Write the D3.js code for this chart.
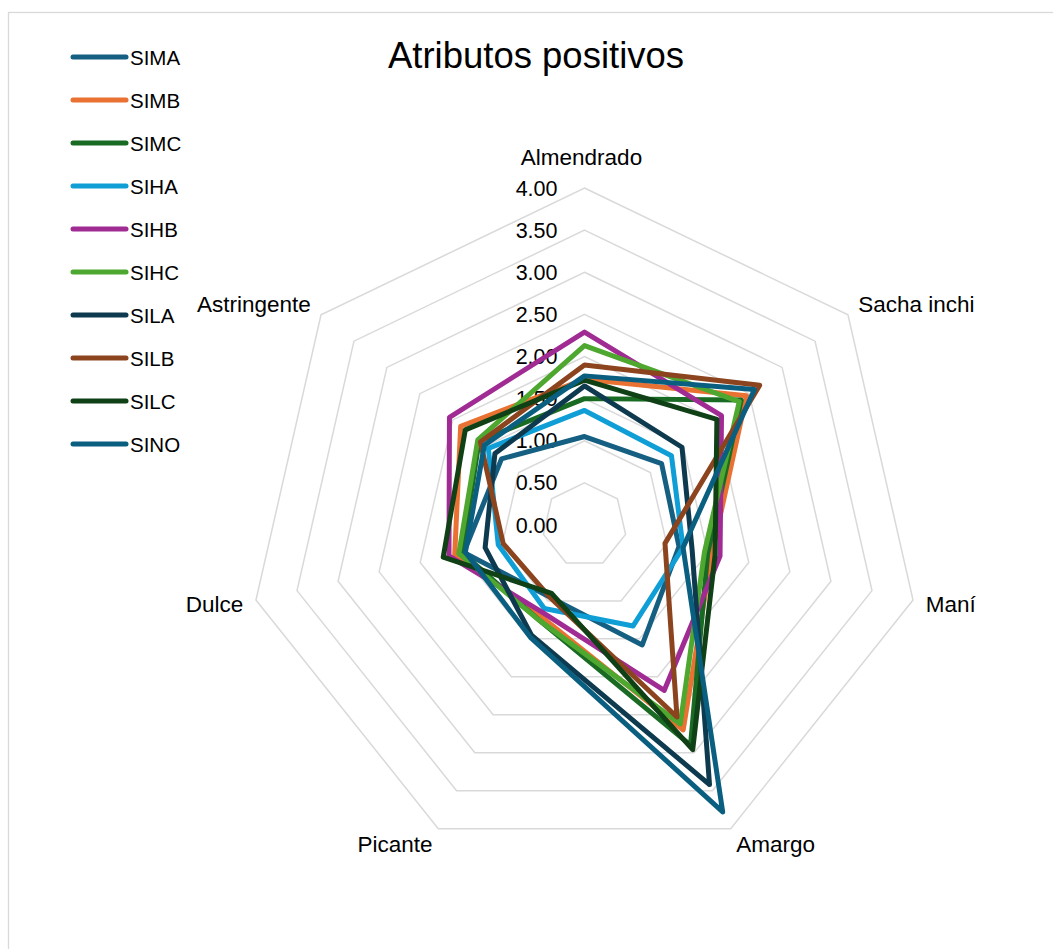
<!DOCTYPE html>
<html>
<head>
<meta charset="utf-8">
<script src="https://cdn.jsdelivr.net/npm/d3@7"></script>
<style>
  html, body { margin: 0; padding: 0; background: #fff; }
  svg { display: block; font-family: "Liberation Sans", Arial, sans-serif; }
</style>
</head>
<body>
<svg id="chart" width="1053" height="949"></svg>
<script>
const title = "Atributos positivos";
const axes = ["Almendrado", "Sacha inchi", "Maní", "Amargo", "Picante", "Dulce", "Astringente"];
const tickValues = [0, 0.5, 1, 1.5, 2, 2.5, 3, 3.5, 4];
const seriesNames = ["SIMA", "SIMB", "SIMC", "SIHA", "SIHB", "SIHC", "SILA", "SILB", "SILC", "SINO"];
const seriesColors = ["#156082", "#E97132", "#196B24", "#0F9ED5", "#A02B93", "#4EA72E", "#0D3A4E", "#8C441E", "#0F4016", "#0A5F80"];

const SIMA = [1.05, 1.17, 1.15, 1.58, 0.95, 1.47, 1.26];
const SIMB = [1.73, 2.46, 1.55, 2.70, 1.20, 1.58, 1.88];
const SIMC = [1.50, 2.38, 1.50, 2.90, 1.25, 1.49, 1.60];
const SIHA = [1.36, 1.32, 1.20, 1.33, 1.10, 1.05, 1.46];
const SIHB = [2.29, 2.08, 1.65, 2.18, 1.15, 1.65, 2.05];
const SIHC = [2.13, 2.35, 1.46, 2.62, 1.25, 1.53, 1.62];
const SILA = [1.65, 1.48, 1.31, 3.42, 1.45, 1.21, 1.36];
const SILB = [1.90, 2.66, 0.98, 2.53, 0.95, 0.99, 1.58];
const SILC = [1.72, 2.01, 1.59, 2.96, 0.90, 1.72, 1.81];
const SINO = [1.77, 2.58, 1.20, 3.78, 1.48, 1.45, 1.52];
const seriesValues = [SIMA, SIMB, SIMC, SIHA, SIHB, SIHC, SILA, SILB, SILC, SINO];

const svg = d3.select("#chart");
const cx = 584.5, cy = 525, R = 337;
const r = d3.scaleLinear().domain([0, 4]).range([0, R]);
const angle = d3.scalePoint().domain(d3.range(axes.length + 1)).range([0, 2 * Math.PI]);
const ang = i => angle(i);
const pt = (i, v) => [cx + r(v) * Math.sin(ang(i)), cy - r(v) * Math.cos(ang(i))];

// chart border
svg.append("rect").attr("x", 8.5).attr("y", 12.5).attr("width", 1060).attr("height", 960)
  .attr("fill", "none").attr("stroke", "#d9d9d9").attr("stroke-width", 1.3);

// grid
const g = svg.append("g");
tickValues.filter(t => t > 0).forEach(t => {
  const pts = axes.map((a, i) => pt(i, t));
  g.append("polygon").attr("points", pts.map(p => p.join(",")).join(" "))
    .attr("fill", "none").attr("stroke", "#d9d9d9").attr("stroke-width", 1.5);
});

// tick labels
g.selectAll(".tick").data(tickValues).enter().append("text")
  .attr("x", cx - 27).attr("y", t => cy - r(t) + 7.5)
  .attr("text-anchor", "end").attr("font-size", 21.5).attr("fill", "#000")
  .text(t => d3.format(".2f")(t));

// series
const line = d3.line().curve(d3.curveLinearClosed);
seriesValues.forEach((vals, s) => {
  svg.append("path").attr("d", line(vals.map((v, i) => pt(i, v))))
    .attr("fill", "none").attr("stroke", seriesColors[s]).attr("stroke-width", 5)
    .attr("stroke-linejoin", "round");
});

// axis labels
axes.forEach((a, i) => {
  const [x, y] = pt(i, 4);
  const s = Math.sin(ang(i)), c = Math.cos(ang(i));
  const top = Math.abs(s) < 0.01;
  const anchor = top ? "middle" : (s > 0 ? "start" : "end");
  const lx = top ? x - 3 : x + 13 * s;
  const centerY = top ? 157 : y - 17.6 * c;
  svg.append("text").attr("x", lx).attr("y", centerY + 8).attr("text-anchor", anchor)
    .attr("font-size", 22.5).attr("fill", "#000").text(a);
});

// title
svg.append("text").attr("x", 536).attr("y", 68).attr("text-anchor", "middle")
  .attr("font-size", 36.5).attr("fill", "#000").text(title);

// legend
const lg = svg.append("g");
seriesNames.forEach((n, k) => {
  const y = 57 + k * 43;
  lg.append("line").attr("x1", 73).attr("x2", 126).attr("y1", y).attr("y2", y)
    .attr("stroke", seriesColors[k]).attr("stroke-width", 5).attr("stroke-linecap", "round");
  lg.append("text").attr("x", 130).attr("y", y + 7.5).attr("font-size", 20.5).attr("fill", "#000").text(n);
});
</script>
</body>
</html>
